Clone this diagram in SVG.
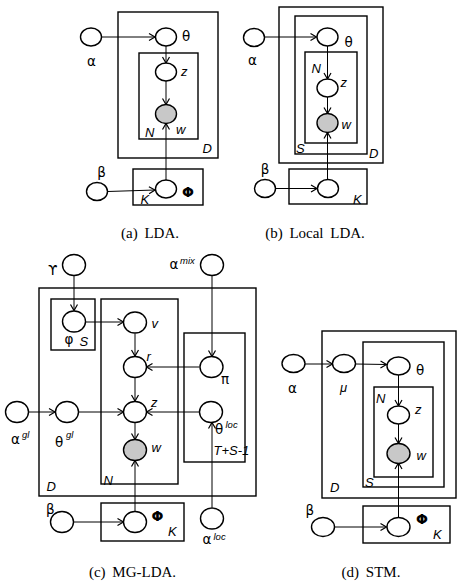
<svg xmlns="http://www.w3.org/2000/svg" width="463" height="586" viewBox="0 0 463 586">
<defs>
<marker id="ah" markerUnits="userSpaceOnUse" markerWidth="10" markerHeight="10" refX="6" refY="3.5" orient="auto" overflow="visible">
<path d="M0,0 L6,3.5 L0,7" fill="none" stroke="#000" stroke-width="1.2"/>
</marker>
<style>
.plate{fill:none;stroke:#000;stroke-width:1.4}
.n{fill:#fff;stroke:#000;stroke-width:1.4}
.obs{fill:#c8c8c8;stroke:#000;stroke-width:1.4}
.e{fill:none;stroke:#000;stroke-width:1;marker-end:url(#ah)}
.l{font-family:"Liberation Sans",Arial,sans-serif;font-size:13px;fill:#000}
.g{font-family:"DejaVu Sans","Liberation Sans",sans-serif;font-size:13.5px;fill:#000}
.i{font-style:italic}
.sup{font-family:"Liberation Sans",Arial,sans-serif;font-size:9.5px;font-style:italic}
.cap{font-family:"Liberation Serif","Times New Roman",serif;font-size:15px;fill:#000;word-spacing:3px}
.b{font-weight:bold;font-size:14px}
</style>
</defs>
<rect width="463" height="586" fill="#fff"/>

<!-- (a) LDA -->
<g id="a-plates">
<rect class="plate" x="118" y="12" width="100" height="146"/>
<rect class="plate" x="139" y="53" width="59" height="86"/>
<rect class="plate" x="133" y="169" width="70" height="36"/>
</g>
<g id="a-edges">
<line class="e" x1="101.5" y1="37" x2="155" y2="37"/>
<line class="e" x1="166" y1="46" x2="166" y2="63"/>
<line class="e" x1="166" y1="81" x2="166" y2="104.5"/>
<line class="e" x1="166" y1="180" x2="166" y2="123.5"/>
<line class="e" x1="107.5" y1="191.5" x2="155" y2="190"/>
</g>
<g id="a-alpha"><ellipse class="n" cx="91" cy="37" rx="10.5" ry="9"/><text class="g" x="91.5" y="66" text-anchor="middle">α</text></g>
<g id="a-theta"><ellipse class="n" cx="166" cy="37" rx="10.5" ry="9"/><text class="g" x="182" y="41">θ</text></g>
<g id="a-z"><ellipse class="n" cx="166" cy="72" rx="10.5" ry="9"/><text class="l i" x="181" y="76">z</text></g>
<g id="a-w"><ellipse class="obs" cx="166" cy="114" rx="10.5" ry="9.5"/><text class="l i" x="176" y="133.5">w</text></g>
<g id="a-phi"><ellipse class="n" cx="166" cy="189" rx="10.5" ry="9"/><text class="g b" x="182" y="197">Φ</text></g>
<g id="a-beta"><ellipse class="n" cx="97" cy="191.5" rx="10.5" ry="9"/><text class="g" x="101.5" y="177" text-anchor="middle">β</text></g>
<g id="a-labels">
<text class="l i" x="145" y="136.5">N</text>
<text class="l i" x="202.5" y="152.5">D</text>
<text class="l i" x="140.5" y="204">K</text>
</g>
<text class="cap" x="150" y="237.5" text-anchor="middle">(a) LDA.</text>

<!-- (b) Local LDA -->
<g id="b-plates">
<rect class="plate" x="279" y="7" width="104" height="156"/>
<rect class="plate" x="295" y="16" width="72" height="138"/>
<rect class="plate" x="305" y="52" width="52" height="91"/>
<rect class="plate" x="289" y="169" width="78" height="35"/>
</g>
<g id="b-edges">
<line class="e" x1="264.5" y1="37" x2="316.5" y2="37"/>
<line class="e" x1="327.5" y1="46" x2="327.5" y2="79"/>
<line class="e" x1="327.5" y1="97" x2="327.5" y2="113.5"/>
<line class="e" x1="327.5" y1="179" x2="327.5" y2="132.5"/>
<line class="e" x1="275.5" y1="188.5" x2="317" y2="188.5"/>
</g>
<g id="b-alpha"><ellipse class="n" cx="254" cy="37.5" rx="10.5" ry="9"/><text class="g" x="252.5" y="65" text-anchor="middle">α</text></g>
<g id="b-theta"><ellipse class="n" cx="327.5" cy="37" rx="10.5" ry="9"/><text class="g" x="344.5" y="47">θ</text></g>
<g id="b-z"><ellipse class="n" cx="327.5" cy="88" rx="10.5" ry="9"/><text class="l i" x="340.5" y="86.5">z</text></g>
<g id="b-w"><ellipse class="obs" cx="327.5" cy="123" rx="10.5" ry="9.5"/><text class="l i" x="341.5" y="128.5">w</text></g>
<g id="b-phi"><ellipse class="n" cx="328" cy="188.5" rx="10.5" ry="9"/></g>
<g id="b-beta"><ellipse class="n" cx="265" cy="188.5" rx="10.5" ry="9"/><text class="g" x="265" y="173.5" text-anchor="middle">β</text></g>
<g id="b-labels">
<text class="l i" x="311.5" y="72.5">N</text>
<text class="l i" x="296" y="152.5">S</text>
<text class="l i" x="369" y="157.5">D</text>
<text class="l i" x="353" y="204">K</text>
</g>
<text class="cap" x="315" y="237.5" text-anchor="middle">(b) Local LDA.</text>

<!-- (c) MG-LDA -->
<g id="c-plates">
<rect class="plate" x="39" y="288" width="217" height="208"/>
<rect class="plate" x="51" y="299" width="44" height="51"/>
<rect class="plate" x="101" y="299" width="77" height="185"/>
<rect class="plate" x="184" y="333" width="61" height="129"/>
<rect class="plate" x="101" y="503" width="83" height="38"/>
</g>
<g id="c-edges">
<line class="e" x1="74" y1="275.5" x2="74" y2="310.5"/>
<line class="e" x1="85.5" y1="322" x2="123.5" y2="322"/>
<line class="e" x1="135" y1="333.5" x2="135" y2="356"/>
<line class="e" x1="199.5" y1="367" x2="146.5" y2="367"/>
<line class="e" x1="135" y1="377.5" x2="135" y2="401"/>
<line class="e" x1="199.5" y1="412" x2="146.5" y2="412"/>
<line class="e" x1="28.5" y1="412" x2="55" y2="412"/>
<line class="e" x1="78.5" y1="412" x2="123.5" y2="412"/>
<line class="e" x1="135" y1="422.5" x2="135" y2="439.5"/>
<line class="e" x1="135" y1="511.5" x2="135" y2="460.5"/>
<line class="e" x1="73.5" y1="522" x2="123.5" y2="522"/>
<line class="e" x1="212" y1="275.5" x2="212" y2="356.5"/>
<line class="e" x1="212" y1="507.5" x2="212" y2="422.5"/>
</g>
<g id="c-gamma"><ellipse class="n" cx="74" cy="265" rx="11.5" ry="10.5"/><text class="g" x="57.5" y="274.5" text-anchor="end">ϒ</text></g>
<g id="c-alphamix"><ellipse class="n" cx="212" cy="265" rx="11.5" ry="10.5"/><text class="g" x="169.5" y="268.5">α</text><text class="sup" x="180" y="264">mix</text></g>
<g id="c-phi"><ellipse class="n" cx="74" cy="321.5" rx="11.5" ry="10.5"/><text class="g" x="64.5" y="344">φ</text><text class="l i" x="79.5" y="346">S</text></g>
<g id="c-v"><ellipse class="n" cx="135" cy="322.5" rx="11.5" ry="10.5"/><text class="l i" x="151.5" y="327.5">v</text></g>
<g id="c-r"><ellipse class="n" cx="135" cy="367" rx="11.5" ry="10.5"/><text class="l i" x="146.5" y="360.5">r</text></g>
<g id="c-pi"><ellipse class="n" cx="211.5" cy="367" rx="11.5" ry="10.5"/><text class="g" x="221" y="383.5">π</text></g>
<g id="c-z"><ellipse class="n" cx="135" cy="412" rx="11.5" ry="10.5"/><text class="l i" x="151" y="406.5">z</text></g>
<g id="c-thetaloc"><ellipse class="n" cx="211" cy="412" rx="11.5" ry="10.5"/><text class="g" x="215" y="433.5" font-size="15">θ</text><text class="sup" x="225.5" y="428">loc</text></g>
<g id="c-alphagl"><ellipse class="n" cx="17" cy="412" rx="11.5" ry="10.5"/><text class="g" x="11" y="444">α</text><text class="sup" x="22" y="437.5">gl</text></g>
<g id="c-thetagl"><ellipse class="n" cx="67" cy="412" rx="11.5" ry="10.5"/><text class="g" x="55" y="446.5">θ</text><text class="sup" x="66" y="438">gl</text></g>
<g id="c-w"><ellipse class="obs" cx="135" cy="450" rx="11.5" ry="10.5"/><text class="l i" x="151.5" y="451.5">w</text></g>
<g id="c-phi2"><ellipse class="n" cx="135" cy="522" rx="11.5" ry="10.5"/><text class="g b" x="151.5" y="521">Φ</text></g>
<g id="c-beta"><ellipse class="n" cx="62" cy="522" rx="11.5" ry="10.5"/><text class="g" x="46" y="514">β</text></g>
<g id="c-alphaloc"><ellipse class="n" cx="212" cy="518.5" rx="11.5" ry="10.5"/><text class="g" x="202.5" y="543.5">α</text><text class="sup" x="213.5" y="539.5">loc</text></g>
<g id="c-labels">
<text class="l i" x="46.5" y="490.5">D</text>
<text class="l i" x="103.5" y="485">N</text>
<text class="l i" x="168" y="536">K</text>
<text class="l i" x="213.5" y="455" font-size="10.5">T+S-1</text>
</g>
<text class="cap" x="132.5" y="576.5" text-anchor="middle">(c) MG-LDA.</text>

<!-- (d) STM -->
<g id="d-plates">
<rect class="plate" x="322" y="331" width="134" height="167"/>
<rect class="plate" x="363" y="342" width="81" height="145"/>
<rect class="plate" x="374" y="387" width="59" height="90"/>
<rect class="plate" x="363" y="506" width="87" height="37"/>
</g>
<g id="d-edges">
<line class="e" x1="304.5" y1="364" x2="332.5" y2="364"/>
<line class="e" x1="355.5" y1="364" x2="386.5" y2="364.5"/>
<line class="e" x1="398.5" y1="375" x2="398.5" y2="406"/>
<line class="e" x1="398.5" y1="424" x2="398.5" y2="443.5"/>
<line class="e" x1="398.5" y1="517.5" x2="398.5" y2="463"/>
<line class="e" x1="334" y1="527" x2="386.5" y2="527"/>
</g>
<g id="d-alpha"><ellipse class="n" cx="293.5" cy="363.5" rx="11.5" ry="9"/><text class="g" x="288" y="392.5">α</text></g>
<g id="d-mu"><ellipse class="n" cx="344" cy="363.5" rx="11.5" ry="9"/><text class="l i" x="340" y="392">μ</text></g>
<g id="d-theta"><ellipse class="n" cx="398.5" cy="366" rx="11.5" ry="9"/><text class="g" x="416" y="375">θ</text></g>
<g id="d-z"><ellipse class="n" cx="398.5" cy="415" rx="11" ry="9"/><text class="l i" x="415" y="414">z</text></g>
<g id="d-w"><ellipse class="obs" cx="398.5" cy="453.5" rx="11.5" ry="10"/><text class="l i" x="416.5" y="460">w</text></g>
<g id="d-phi"><ellipse class="n" cx="398.5" cy="527" rx="11.5" ry="9.5"/><text class="g b" x="416" y="524">Φ</text></g>
<g id="d-beta"><ellipse class="n" cx="323" cy="527" rx="11.5" ry="9.5"/><text class="g" x="305.5" y="515">β</text></g>
<g id="d-labels">
<text class="l i" x="376" y="402.5">N</text>
<text class="l i" x="365" y="486.5">S</text>
<text class="l i" x="330" y="491.5">D</text>
<text class="l i" x="433" y="539">K</text>
</g>
<text class="cap" x="371" y="576.5" text-anchor="middle">(d) STM.</text>
</svg>
